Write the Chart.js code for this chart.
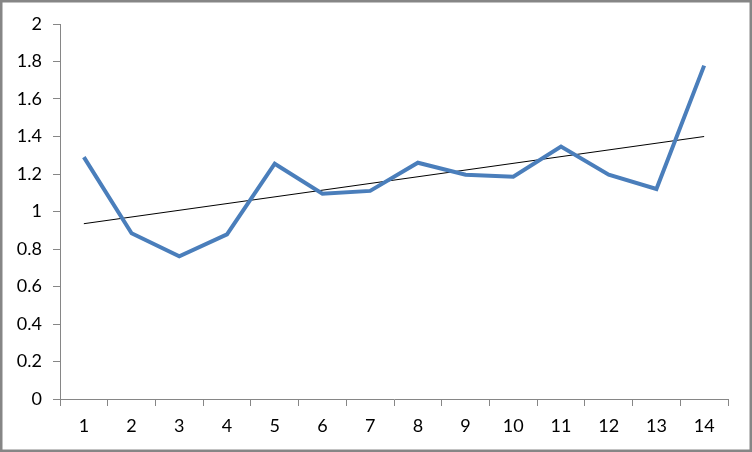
<!DOCTYPE html>
<html><head><meta charset="utf-8">
<script src="https://cdn.jsdelivr.net/npm/chart.js@4/dist/chart.umd.min.js"></script>
<style>html,body{margin:0;padding:0;background:#fff;}#wrap{width:752px;height:452px;position:relative;}</style>
</head><body><div id="wrap"><canvas id="c" width="752" height="452"></canvas></div>
<script>
const categories = ['1','2','3','4','5','6','7','8','9','10','11','12','13','14'];
const seriesValues = [1.29,0.884,0.761,0.878,1.255,1.095,1.11,1.26,1.196,1.186,1.346,1.196,1.12,1.778];
const trendValues = [0.935,null,null,null,null,null,null,null,null,null,null,null,null,1.40];
const yTicks = [0,0.2,0.4,0.6,0.8,1,1.2,1.4,1.6,1.8,2];

const frame = {id:'frame', afterDraw(ch){const c=ch.ctx;c.save();c.strokeStyle='#868686';c.lineWidth=2.5;c.strokeRect(1.25,1.25,752-2.5,452-2.5);c.restore();}};
const bg = {id:'bg', beforeDraw(ch){const c=ch.ctx;c.save();c.fillStyle='#fff';c.fillRect(0,0,752,452);c.restore();}};

new Chart(document.getElementById('c'), {
  type:'line',
  data:{labels:categories, datasets:[
    {data:seriesValues, borderColor:'#4a7ebb', borderWidth:4, pointRadius:0, tension:0, fill:false, borderJoinStyle:'miter'},
    {data:trendValues, borderColor:'#000', borderWidth:1, pointRadius:0, spanGaps:true, fill:false}
  ]},
  options:{
    responsive:false, animation:false, devicePixelRatio:1,
    layout:{padding:{left:0,top:24,right:24,bottom:0}},
    plugins:{legend:{display:false}, tooltip:{enabled:false}},
    scales:{
      x:{offset:true, grid:{display:true, drawOnChartArea:false, tickLength:7, color:'#868686', offset:true},
         border:{color:'#868686', width:1},
         ticks:{color:'#000', font:{family:'Lato', size:18}, padding:9, maxRotation:0},
         afterFit(s){s.height=53;}},
      y:{min:0,max:2, afterBuildTicks(s){s.ticks=yTicks.map(v=>({value:v}));},
         grid:{display:true, drawOnChartArea:false, tickLength:7, color:'#868686'},
         border:{color:'#868686', width:1},
         ticks:{color:'#000', font:{family:'Lato', size:18}, padding:11, callback:v=>String(v)},
         afterFit(s){s.width=60;}}
    }
  },
  plugins:[bg,frame]
});
</script></body></html>
